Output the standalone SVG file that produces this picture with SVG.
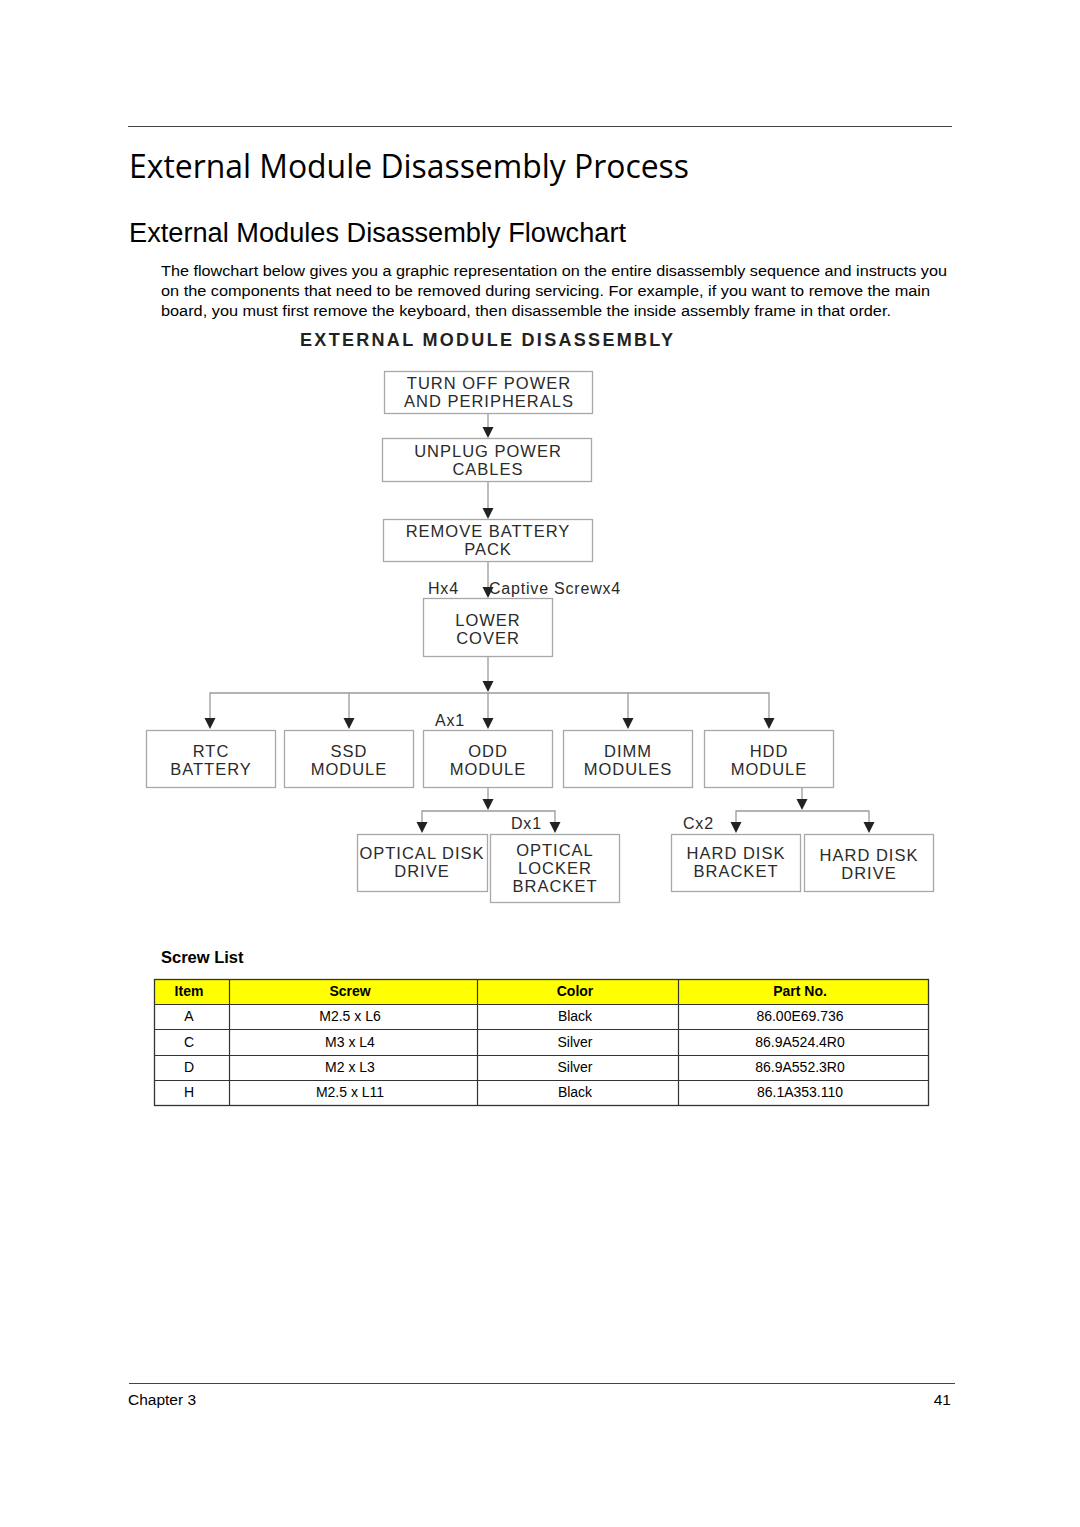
<svg xmlns="http://www.w3.org/2000/svg" width="1080" height="1527" viewBox="0 0 1080 1527">
<style>
.box{fill:#fff;stroke:#a8a8a8;stroke-width:1.3}
.bt{font-family:"Liberation Sans",Arial,sans-serif;font-size:16.5px;fill:#2a2a2a;text-anchor:middle;letter-spacing:1px}
.lbl{font-family:"Liberation Sans",Arial,sans-serif;font-size:16px;fill:#2a2a2a;letter-spacing:0.8px}
.ln{fill:none;stroke:#9a9a9a;stroke-width:1.3}
.ar{fill:#222}
.body{font-family:"Liberation Sans",Arial,sans-serif;font-size:15.5px;fill:#000}
.th{font-family:"Liberation Sans",Arial,sans-serif;font-size:14px;font-weight:bold;fill:#000;text-anchor:middle}
.td{font-family:"Liberation Sans",Arial,sans-serif;font-size:14px;fill:#000;text-anchor:middle}
.tl{stroke:#333;stroke-width:1.2}
</style>
<defs>
<path id="ah" class="ar" d="M-5.5,-11 L5.5,-11 L0,0 Z"/>
</defs>
<rect width="1080" height="1527" fill="#fff"/>
<line x1="128" y1="126.5" x2="952" y2="126.5" stroke="#444" stroke-width="1.2"/>
<text x="129" y="178" font-family="'Open Sans','Noto Sans',sans-serif" font-size="33px" fill="#000" textLength="560" lengthAdjust="spacingAndGlyphs">External Module Disassembly Process</text>
<text x="129" y="242" font-family="'Liberation Sans',Arial,sans-serif" font-size="27px" fill="#000" textLength="497" lengthAdjust="spacingAndGlyphs">External Modules Disassembly Flowchart</text>
<text class="body" x="161" y="276" textLength="786" lengthAdjust="spacingAndGlyphs">The flowchart below gives you a graphic representation on the entire disassembly sequence and instructs you</text>
<text class="body" x="161" y="296" textLength="769" lengthAdjust="spacingAndGlyphs">on the components that need to be removed during servicing. For example, if you want to remove the main</text>
<text class="body" x="161" y="316" textLength="730" lengthAdjust="spacingAndGlyphs">board, you must first remove the keyboard, then disassemble the inside assembly frame in that order.</text>
<text x="300" y="346" font-family="'Liberation Sans',Arial,sans-serif" font-size="18px" font-weight="bold" fill="#222" textLength="373" lengthAdjust="spacing">EXTERNAL  MODULE  DISASSEMBLY</text>

<g id="connectors">
<line class="ln" x1="488" y1="413" x2="488" y2="428"/><use href="#ah" x="488" y="438"/>
<line class="ln" x1="488" y1="481" x2="488" y2="509" stroke="#b79a9a"/><use href="#ah" x="488" y="519"/>
<line class="ln" x1="488" y1="561" x2="488" y2="588"/><use href="#ah" x="488" y="598"/>
<line class="ln" x1="488" y1="656" x2="488" y2="683"/><use href="#ah" x="488" y="692"/>
<polyline class="ln" points="210,719 210,693 769,693 769,719"/>
<line class="ln" x1="349" y1="693" x2="349" y2="719"/>
<line class="ln" x1="488" y1="693" x2="488" y2="719"/>
<line class="ln" x1="628" y1="693" x2="628" y2="719"/>
<use href="#ah" x="210" y="729"/><use href="#ah" x="349" y="729"/><use href="#ah" x="488" y="729"/><use href="#ah" x="628" y="729"/><use href="#ah" x="769" y="729"/>
<line class="ln" x1="488" y1="787" x2="488" y2="800"/><use href="#ah" x="488" y="810"/>
<polyline class="ln" points="422,823 422,811 555,811 555,823"/>
<use href="#ah" x="422" y="833"/><use href="#ah" x="555" y="833"/>
<line class="ln" x1="802" y1="787" x2="802" y2="800"/><use href="#ah" x="802" y="810"/>
<polyline class="ln" points="736,823 736,811 869,811 869,823"/>
<use href="#ah" x="736" y="833"/><use href="#ah" x="869" y="833"/>
</g>

<g id="n1"><rect class="box" x="384.5" y="371.5" width="208" height="42"/><text class="bt" x="489" y="389">TURN OFF POWER</text><text class="bt" x="489" y="407">AND PERIPHERALS</text></g>
<g id="n2"><rect class="box" x="382.5" y="438.5" width="209" height="43"/><text class="bt" x="488" y="457">UNPLUG POWER</text><text class="bt" x="488" y="475">CABLES</text></g>
<g id="n3"><rect class="box" x="383.5" y="519.5" width="209" height="42"/><text class="bt" x="488" y="537">REMOVE BATTERY</text><text class="bt" x="488" y="555">PACK</text></g>
<text class="lbl" x="428" y="594">Hx4</text>
<text class="lbl" x="489" y="594">Captive Screwx4</text>
<g id="n4"><rect class="box" x="423.5" y="598.5" width="129" height="58"/><text class="bt" x="488" y="626">LOWER</text><text class="bt" x="488" y="644">COVER</text></g>
<text class="lbl" x="435" y="726">Ax1</text>
<g id="n5"><rect class="box" x="146.5" y="730.5" width="129" height="57"/><text class="bt" x="211" y="757">RTC</text><text class="bt" x="211" y="775">BATTERY</text></g>
<g id="n6"><rect class="box" x="284.5" y="730.5" width="129" height="57"/><text class="bt" x="349" y="757">SSD</text><text class="bt" x="349" y="775">MODULE</text></g>
<g id="n7"><rect class="box" x="423.5" y="730.5" width="129" height="57"/><text class="bt" x="488" y="757">ODD</text><text class="bt" x="488" y="775">MODULE</text></g>
<g id="n8"><rect class="box" x="563.5" y="730.5" width="129" height="57"/><text class="bt" x="628" y="757">DIMM</text><text class="bt" x="628" y="775">MODULES</text></g>
<g id="n9"><rect class="box" x="704.5" y="730.5" width="129" height="57"/><text class="bt" x="769" y="757">HDD</text><text class="bt" x="769" y="775">MODULE</text></g>
<text class="lbl" x="511" y="829">Dx1</text>
<text class="lbl" x="683" y="829">Cx2</text>
<g id="n10"><rect class="box" x="357.5" y="834.5" width="130" height="57"/><text class="bt" x="422" y="859" letter-spacing="0.5px">OPTICAL DISK</text><text class="bt" x="422" y="877">DRIVE</text></g>
<g id="n11"><rect class="box" x="490.5" y="834.5" width="129" height="68"/><text class="bt" x="555" y="856">OPTICAL</text><text class="bt" x="555" y="874">LOCKER</text><text class="bt" x="555" y="892">BRACKET</text></g>
<g id="n12"><rect class="box" x="671.5" y="834.5" width="129" height="57"/><text class="bt" x="736" y="859">HARD DISK</text><text class="bt" x="736" y="877">BRACKET</text></g>
<g id="n13"><rect class="box" x="804.5" y="834.5" width="129" height="57"/><text class="bt" x="869" y="861">HARD DISK</text><text class="bt" x="869" y="879">DRIVE</text></g>

<g id="screw-table">
<text x="161" y="963" font-family="'Liberation Sans',Arial,sans-serif" font-size="16.5px" font-weight="bold" fill="#000">Screw List</text>
<rect x="154.5" y="979.5" width="774" height="25" fill="#ffff00"/>
<rect x="154.5" y="979.5" width="774" height="126" fill="none" stroke="#333" stroke-width="1.3"/>
<line class="tl" x1="154" y1="1004.5" x2="928" y2="1004.5"/>
<line class="tl" x1="154" y1="1029.5" x2="928" y2="1029.5"/>
<line class="tl" x1="154" y1="1055.5" x2="928" y2="1055.5"/>
<line class="tl" x1="154" y1="1080.5" x2="928" y2="1080.5"/>
<line class="tl" x1="229.5" y1="979" x2="229.5" y2="1105"/>
<line class="tl" x1="477.5" y1="979" x2="477.5" y2="1105"/>
<line class="tl" x1="678.5" y1="979" x2="678.5" y2="1105"/>
<text class="th" x="189" y="996">Item</text><text class="th" x="350" y="996">Screw</text><text class="th" x="575" y="996">Color</text><text class="th" x="800" y="996">Part No.</text>
<text class="td" x="189" y="1021">A</text><text class="td" x="350" y="1021">M2.5 x L6</text><text class="td" x="575" y="1021">Black</text><text class="td" x="800" y="1021">86.00E69.736</text>
<text class="td" x="189" y="1047">C</text><text class="td" x="350" y="1047">M3 x L4</text><text class="td" x="575" y="1047">Silver</text><text class="td" x="800" y="1047">86.9A524.4R0</text>
<text class="td" x="189" y="1072">D</text><text class="td" x="350" y="1072">M2 x L3</text><text class="td" x="575" y="1072">Silver</text><text class="td" x="800" y="1072">86.9A552.3R0</text>
<text class="td" x="189" y="1097">H</text><text class="td" x="350" y="1097">M2.5 x L11</text><text class="td" x="575" y="1097">Black</text><text class="td" x="800" y="1097">86.1A353.110</text>
</g>

<line x1="129" y1="1383.5" x2="955" y2="1383.5" stroke="#444" stroke-width="1.2"/>
<text x="128" y="1405" font-family="'Liberation Sans',Arial,sans-serif" font-size="15.5px" fill="#000">Chapter 3</text>
<text x="951" y="1405" font-family="'Liberation Sans',Arial,sans-serif" font-size="15.5px" fill="#000" text-anchor="end">41</text>
</svg>
